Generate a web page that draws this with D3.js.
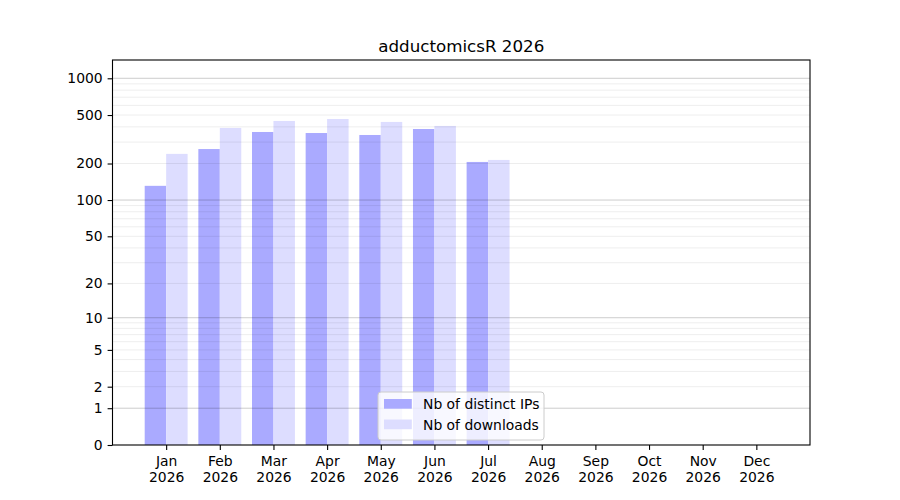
<!DOCTYPE html>
<html>
<head>
<meta charset="utf-8">
<script src="https://cdn.jsdelivr.net/npm/d3@7"></script>
<style>
  body { margin: 0; background: #fff; }
  text { font-family: "DejaVu Sans", sans-serif; fill: #000; }
</style>
</head>
<body>
<script>
// chart data
var months = ["Jan", "Feb", "Mar", "Apr", "May", "Jun", "Jul", "Aug", "Sep", "Oct", "Nov", "Dec"];
var year = "2026";
var distinctIPs = [131, 263, 363, 356, 343, 384, 206, null, null, null, null, null];
var downloads = [240, 392, 447, 464, 439, 407, 214, null, null, null, null, null];
var yTicks = [0, 1, 2, 5, 10, 20, 50, 100, 200, 500, 1000];
var majorGrid = [1, 10, 100, 1000];
var minorGrid = [2, 3, 4, 5, 6, 7, 8, 9, 20, 30, 40, 50, 60, 70, 80, 90, 200, 300, 400, 500, 600, 700, 800, 900];
var seriesNames = ["Nb of distinct IPs", "Nb of downloads"];
var seriesColors = ["#aaaaff", "#ddddff"];

var w = 900, h = 500;
// plot area (note: "top" is reserved on window, so use a prefix)
var pLeft = 112.5, pRight = 810, pTop = 60, pBottom = 445;

var svg = d3.select("body").append("svg")
    .attr("width", w)
    .attr("height", h);

var xScale = d3.scaleLinear()
    .domain([-1, months.length])
    .range([pLeft, pRight]);

// symmetric log, log(1 + y)
var yScale = d3.scaleSymlog()
    .constant(1)
    .domain([0, 1412])
    .range([pBottom, pTop]);

var barW = 0.4;

// bars
var series = [distinctIPs, downloads];
series.forEach(function(vals, s) {
    svg.append("g").selectAll("rect")
        .data(vals.map(function(v, i) { return {i: i, v: v}; }).filter(function(d) { return d.v != null; }))
        .enter()
        .append("rect")
        .attr("x", function(d) { return xScale(d.i - barW + s * barW); })
        .attr("width", xScale(barW) - xScale(0))
        .attr("y", function(d) { return yScale(d.v); })
        .attr("height", function(d) { return yScale(0) - yScale(d.v); })
        .attr("fill", seriesColors[s]);
});

// grid lines, drawn on top like the original
svg.append("g").selectAll("line")
    .data(minorGrid)
    .enter()
    .append("line")
    .attr("x1", pLeft).attr("x2", pRight)
    .attr("y1", function(d) { return yScale(d); })
    .attr("y2", function(d) { return yScale(d); })
    .attr("stroke", "#000")
    .attr("stroke-opacity", 0.07)
    .attr("stroke-width", 1);

svg.append("g").selectAll("line")
    .data(majorGrid)
    .enter()
    .append("line")
    .attr("x1", pLeft).attr("x2", pRight)
    .attr("y1", function(d) { return yScale(d); })
    .attr("y2", function(d) { return yScale(d); })
    .attr("stroke", "#000")
    .attr("stroke-opacity", 0.2)
    .attr("stroke-width", 1);

// axes
var yAxis = d3.axisLeft(yScale)
    .tickValues(yTicks)
    .tickFormat(d3.format("d"))
    .tickSize(4.9)
    .tickPadding(4.9);

var gy = svg.append("g")
    .attr("transform", `translate(${pLeft}, 0)`)
    .call(yAxis);

var xAxis = d3.axisBottom(xScale)
    .tickValues(d3.range(months.length))
    .tickFormat(function(i) { return months[i]; })
    .tickSize(4.9)
    .tickPadding(4.9);

var gx = svg.append("g")
    .attr("transform", `translate(0, ${pBottom})`)
    .call(xAxis);

// second line of tick labels (year)
gx.selectAll(".tick text")
    .attr("dy", null)
    .attr("y", 20.5)
    .each(function(i) {
        var t = d3.select(this);
        t.text(null);
        t.append("tspan").attr("x", 0).text(months[i]);
        t.append("tspan").attr("x", 0).attr("dy", 16.3).text(year);
    });

[gx, gy].forEach(function(g) {
    g.select(".domain").remove();
    g.selectAll(".tick line").attr("stroke", "#000").attr("stroke-width", 1.1);
    g.selectAll(".tick text")
        .attr("font-family", "DejaVu Sans")
        .attr("font-size", "13.9px")
        .attr("fill", "#000");
});

// frame
svg.append("rect")
    .attr("x", pLeft).attr("y", pTop)
    .attr("width", pRight - pLeft).attr("height", pBottom - pTop)
    .attr("fill", "none")
    .attr("stroke", "#000")
    .attr("stroke-width", 1.1);

// title
svg.append("text")
    .attr("x", (pLeft + pRight) / 2)
    .attr("y", pTop - 8.5)
    .attr("text-anchor", "middle")
    .attr("font-size", "16.7px")
    .text("adductomicsR " + year);

// legend, lower center
var lg = svg.append("g");
var lx = 378, ly = 392, lw = 166, lh = 48;
lg.append("rect")
    .attr("x", lx).attr("y", ly)
    .attr("width", lw).attr("height", lh)
    .attr("rx", 3)
    .attr("fill", "#fff")
    .attr("fill-opacity", 0.8)
    .attr("stroke", "#ccc")
    .attr("stroke-width", 1);

seriesNames.forEach(function(name, s) {
    var cy = ly + 12 + s * 20.5;
    lg.append("rect")
        .attr("x", lx + 6).attr("y", cy - 5)
        .attr("width", 27.8).attr("height", 9.7)
        .attr("fill", seriesColors[s]);
    lg.append("text")
        .attr("x", lx + 45)
        .attr("y", cy + 5)
        .attr("font-size", "13.9px")
        .text(name);
});
</script>
</body>
</html>
